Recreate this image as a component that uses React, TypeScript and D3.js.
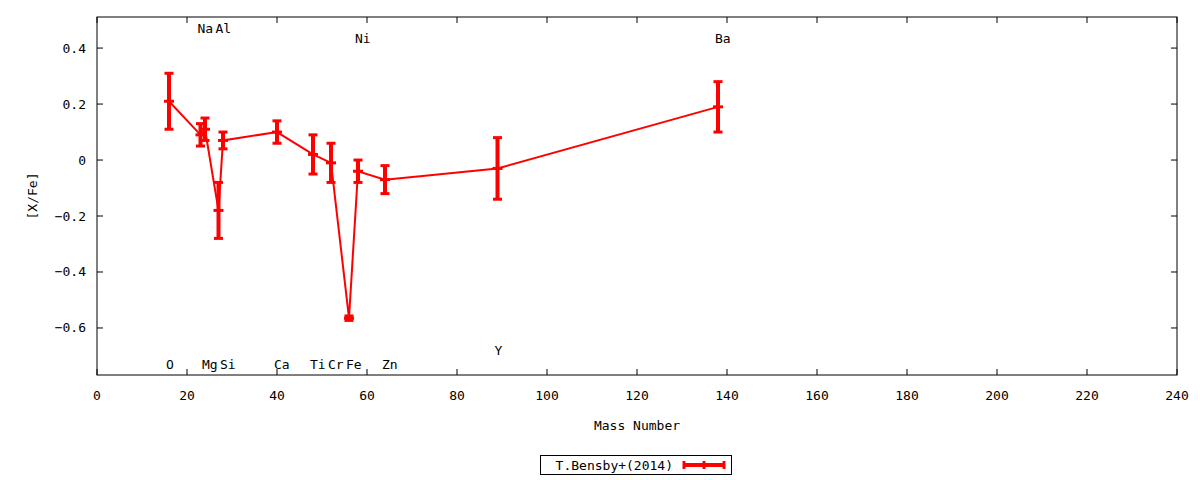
import { useEffect } from 'react';
import * as d3 from 'd3';

// element abundances (Bensby 2014) against mass number
const elements = ['O', 'Na', 'Mg', 'Al', 'Si', 'Ca', 'Ti', 'Cr', 'Fe', 'Ni', 'Zn', 'Y', 'Ba'];
const massNumbers = [16, 23, 24, 27, 28, 40, 48, 52, 56, 58, 64, 89, 138];
const abundances = [0.21, 0.09, 0.11, -0.18, 0.07, 0.10, 0.02, -0.01, -0.565, -0.04, -0.07, -0.03, 0.19];
const errors = [0.10, 0.04, 0.04, 0.10, 0.03, 0.04, 0.07, 0.07, 0.008, 0.04, 0.05, 0.11, 0.09];
// y (in [X/Fe] units) where each element name is printed
const labelLevels = [-0.73, 0.47, -0.73, 0.47, -0.73, -0.73, -0.73, -0.73, -0.73, 0.435, -0.73, -0.68, 0.435];

const xTicks = d3.range(0, 241, 20);
const yTicks = [0.4, 0.2, 0, -0.2, -0.4, -0.6];
const seriesName = 'T.Bensby+(2014)';

const W = 1200;
const H = 480;
const margin = { top: 17, right: 23, bottom: 105, left: 97 };
const FONT = '"DejaVu Sans Mono", monospace';
const RED = '#ff0000';

const App = () => {
  useEffect(() => {
    document.body.style.margin = '0';
  }, []);

  const x = d3.scaleLinear().domain([0, 240]).range([margin.left, W - margin.right]);
  const y = d3.scaleLinear().domain([-0.768, 0.511]).range([H - margin.bottom, margin.top]);

  const pts = massNumbers.map((m, i) => ({ m, v: abundances[i], e: errors[i], name: elements[i], ly: labelLevels[i] }));
  const line = d3.line<typeof pts[number]>().x(d => x(d.m)).y(d => y(d.v));

  const x0 = margin.left;
  const x1 = W - margin.right;
  const y0 = H - margin.bottom;
  const y1 = margin.top;

  return (
    <svg width={W} height={H} style={{ display: 'block', background: '#fff' }} fontFamily={FONT} fontSize={13}>
      {/* ticks, mirrored */}
      {xTicks.map(t => (
        <g key={'xt' + t}>
          <line x1={x(t)} x2={x(t)} y1={y0} y2={y0 - 6} stroke="#000" />
          <line x1={x(t)} x2={x(t)} y1={y1} y2={y1 + 6} stroke="#000" />
          <text x={x(t)} y={395} textAnchor="middle" dominantBaseline="central">{t}</text>
        </g>
      ))}
      {yTicks.map(t => (
        <g key={'yt' + t}>
          <line x1={x0} x2={x0 + 6} y1={y(t)} y2={y(t)} stroke="#000" />
          <line x1={x1} x2={x1 - 6} y1={y(t)} y2={y(t)} stroke="#000" />
          <text x={86} y={y(t)} textAnchor="end" dominantBaseline="central">{d3.format('')(t)}</text>
        </g>
      ))}
      <rect x={x0} y={y1} width={x1 - x0} height={y0 - y1} fill="none" stroke="#000" />

      <text x={(x0 + x1) / 2} y={425} textAnchor="middle" dominantBaseline="central">Mass Number</text>
      <text transform={`translate(32,${(y0 + y1) / 2}) rotate(-90)`} textAnchor="middle" dominantBaseline="central">[X/Fe]</text>

      {/* element names */}
      {pts.map(p => (
        <text key={'lab' + p.name} x={x(p.m) - 3} y={y(p.ly)} dominantBaseline="central">{p.name}</text>
      ))}

      {/* connecting line */}
      <path d={line(pts) ?? ''} fill="none" stroke={RED} strokeWidth={2} />

      {/* error bars */}
      {pts.map(p => (
        <g key={'eb' + p.name} stroke={RED}>
          <line x1={x(p.m)} x2={x(p.m)} y1={y(p.v + p.e)} y2={y(p.v - p.e)} strokeWidth={4} />
          <line x1={x(p.m) - 4.5} x2={x(p.m) + 4.5} y1={y(p.v + p.e)} y2={y(p.v + p.e)} strokeWidth={3} />
          <line x1={x(p.m) - 4.5} x2={x(p.m) + 4.5} y1={y(p.v - p.e)} y2={y(p.v - p.e)} strokeWidth={3} />
          <line x1={x(p.m) - 5} x2={x(p.m) + 5} y1={y(p.v)} y2={y(p.v)} strokeWidth={3} />
        </g>
      ))}

      {/* legend */}
      <rect x={540.5} y={455.5} width={191} height={19} fill="none" stroke="#000" />
      <text x={673} y={465} textAnchor="end" dominantBaseline="central">{seriesName}</text>
      <g stroke={RED}>
        <line x1={683} x2={725} y1={465} y2={465} strokeWidth={4} />
        <line x1={684} x2={684} y1={461} y2={469} strokeWidth={3} />
        <line x1={724} x2={724} y1={461} y2={469} strokeWidth={3} />
        <line x1={704} x2={704} y1={461} y2={469} strokeWidth={3} />
      </g>
    </svg>
  );
};

export default App;
